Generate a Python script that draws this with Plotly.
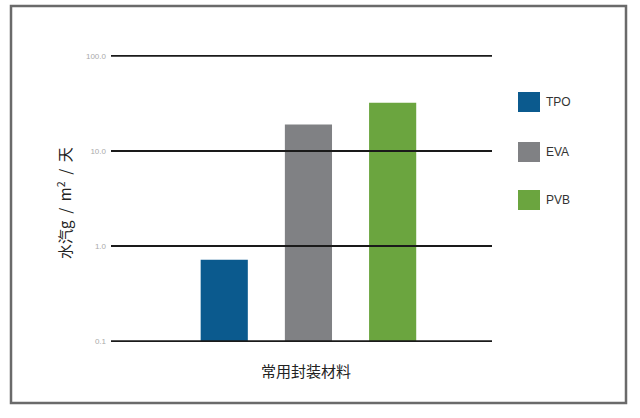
import plotly.graph_objects as go

materials = ["TPO", "EVA", "PVB"]
values = [0.72, 19.0, 32.0]
colors = ["#0b5a8e", "#808184", "#6ba53f"]
tick_vals = [0.1, 1, 10, 100]
tick_text = ["0.1", "1.0", "10.0", "100.0"]
y_title = "水汽g  /  m<sup>2</sup>  /  天"
x_title = "常用封装材料"

W, H = 640, 418
PL, PR, PT, PB = 111, 492, 55, 342   # target plot area in page pixels
L, T, R, B = PL, PT, W - PR, H - PB
pw, ph = PR - PL, PB - PT

def px_x(x):
    return (x - PL) / pw

def px_y(y):
    return (PB - y) / ph

fig = go.Figure()
for m, v, c in zip(materials, values, colors):
    fig.add_trace(go.Bar(x=[m], y=[v], name=m, marker=dict(color=c, line=dict(width=0)),
                         width=0.56, showlegend=False))

# gridlines above bars
for tv in tick_vals:
    fig.add_shape(type="line", xref="paper", yref="y", x0=0, x1=1, y0=tv, y1=tv,
                  line=dict(color="#1a1a1a", width=2), layer="above")

# frame
fig.add_shape(type="rect", xref="paper", yref="paper",
              x0=px_x(11), x1=px_x(626), y0=px_y(403), y1=px_y(6),
              line=dict(color="#6a6a6a", width=2.5), layer="below")

# legend
leg_y = [102, 152, 200]
for m, c, yy in zip(materials, colors, leg_y):
    fig.add_shape(type="rect", xref="paper", yref="paper",
                  x0=px_x(518), x1=px_x(540), y0=px_y(yy + 10), y1=px_y(yy - 10),
                  fillcolor=c, line=dict(width=0))
    fig.add_annotation(xref="paper", yref="paper", x=px_x(544), y=px_y(yy),
                       text=m, showarrow=False, xanchor="left", yanchor="middle",
                       font=dict(size=12, color="#333333", family="Liberation Sans"))

fig.add_annotation(xref="paper", yref="paper", x=px_x(64), y=px_y(203),
                   text=y_title, textangle=-90, showarrow=False,
                   xanchor="center", yanchor="middle",
                   font=dict(size=15, color="#222222", family="Noto Sans CJK SC"))
fig.add_annotation(xref="paper", yref="paper", x=px_x(306), y=px_y(370),
                   text=x_title, showarrow=False, xanchor="center", yanchor="middle",
                   font=dict(size=15, color="#222222", family="Noto Sans CJK SC"))

fig.update_layout(
    width=W, height=H,
    margin=dict(l=L, r=R, t=T, b=B),
    paper_bgcolor="white", plot_bgcolor="white",
    barmode="overlay",
    xaxis=dict(range=[-1.345, 3.18], showticklabels=False, showgrid=False,
               zeroline=False, showline=False, ticks=""),
    yaxis=dict(type="log", range=[-1.008, 2.008], tickvals=tick_vals, ticktext=tick_text,
               showgrid=False, zeroline=False, showline=False, ticks="",
               ticklabelstandoff=4,
               tickfont=dict(size=8, color="#aaaaaa", family="Liberation Sans")),
)

fig.write_html("out.html", config={"displayModeBar": False},
               post_script="document.body.style.margin='0';")
